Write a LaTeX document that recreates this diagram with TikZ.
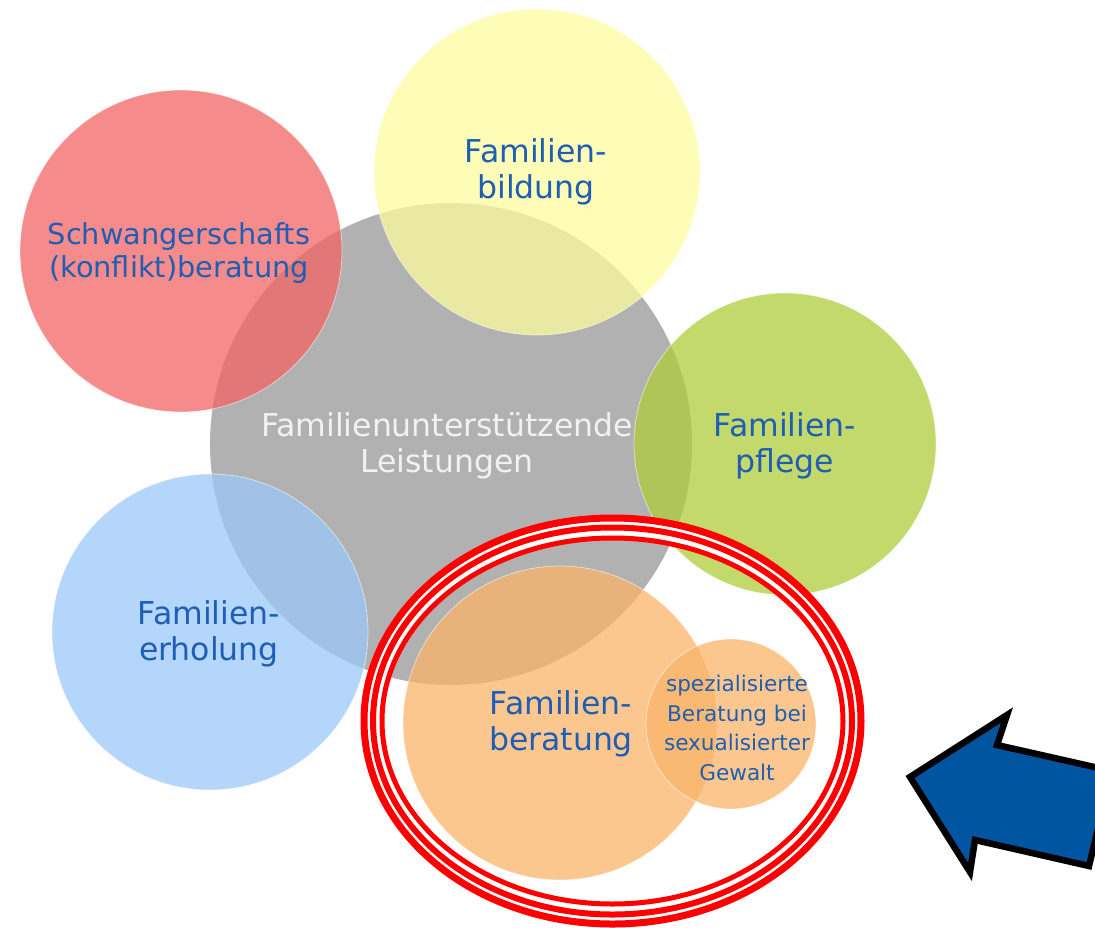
\documentclass[tikz,border=0pt]{standalone}
\usepackage{fontspec}
\setmainfont{DejaVu Sans}
\definecolor{cgray}{RGB}{177,177,177}
\definecolor{cred}{RGB}{242,100,100}
\definecolor{cyellow}{RGB}{252,252,159}
\definecolor{cgreen}{RGB}{175,204,58}
\definecolor{cblue}{RGB}{155,200,248}
\definecolor{corange}{RGB}{250,180,106}
\definecolor{ctext}{RGB}{30,94,180}
\definecolor{carrow}{RGB}{0,85,160}
\definecolor{cring}{RGB}{255,0,0}
\begin{document}
\begin{tikzpicture}[x=1pt,y=-1pt,
  bubble/.style={circle, inner sep=0pt, fill opacity=0.75, draw=white, draw opacity=0.55, line width=0.8pt},
  lbl/.style={text=ctext, align=center, inner sep=0pt, font=\fontsize{31.5}{36}\selectfont},
  smalllbl/.style={text=ctext, align=center, inner sep=0pt, font=\fontsize{21.6}{29.5}\selectfont},
  ring/.style={draw=cring}
]
\useasboundingbox (0,0) rectangle (1095,927);
\clip (0,0) rectangle (1095,927);
% circles
\node[circle, inner sep=0pt, fill=cgray, minimum size=482pt] (center) at (451,444) {};
\node[bubble, fill=cred, minimum size=322pt] (red) at (181,251) {};
\node[bubble, fill=cyellow, minimum size=326pt] (yellow) at (537,172) {};
\node[bubble, fill=cgreen, minimum size=302pt] (green) at (785,444) {};
\node[bubble, fill=cblue, minimum size=316pt] (blue) at (210,632) {};
\node[bubble, fill=corange, minimum size=314pt] (orange) at (560,723) {};
\node[bubble, fill=corange, minimum size=170pt] (small) at (731,724) {};
% labels
\node[lbl, font=\fontsize{28.8}{33}\selectfont] (tred) at (179,253) {Schwangerschafts\\(konflikt)beratung};
\node[lbl] (tyellow) at (536,172) {Familien-\\bildung};
\node[lbl, text={rgb,255:red,242;green,242;blue,242}] (tcenter) at (447,446) {Familienunterstützende\\Leistungen};
\node[lbl] (tgreen) at (785,446) {Familien-\\pflege};
\node[lbl] (tblue) at (209,634) {Familien-\\erholung};
\node[lbl] (torange) at (561,724) {Familien-\\beratung};
\node[smalllbl] (tsmall) at (737,728) {spezialisierte\\Beratung bei\\sexualisierter\\Gewalt};
% red rings
\coordinate (rc) at (612.5,721);
\draw[white, line width=22pt] (rc) ellipse [x radius=240, y radius=193.5];
\draw[ring, line width=7pt] (rc) ellipse [x radius=248.5, y radius=203];
\draw[ring, line width=6pt] (rc) ellipse [x radius=239.5, y radius=193.5];
\draw[ring, line width=5pt] (rc) ellipse [x radius=230.5, y radius=183];
% arrow
\coordinate (a1) at (910,777);
\coordinate (a2) at (1007,715);
\coordinate (a3) at (997,745);
\coordinate (a4) at (1112,771);
\coordinate (a5) at (1089,866);
\coordinate (a6) at (975,840);
\coordinate (a7) at (970,872);
\draw[fill=carrow, draw=black, line width=6.5pt, line join=miter] (a1) -- (a2) -- (a3) -- (a4) -- (a5) -- (a6) -- (a7) -- cycle;
\end{tikzpicture}
\end{document}
